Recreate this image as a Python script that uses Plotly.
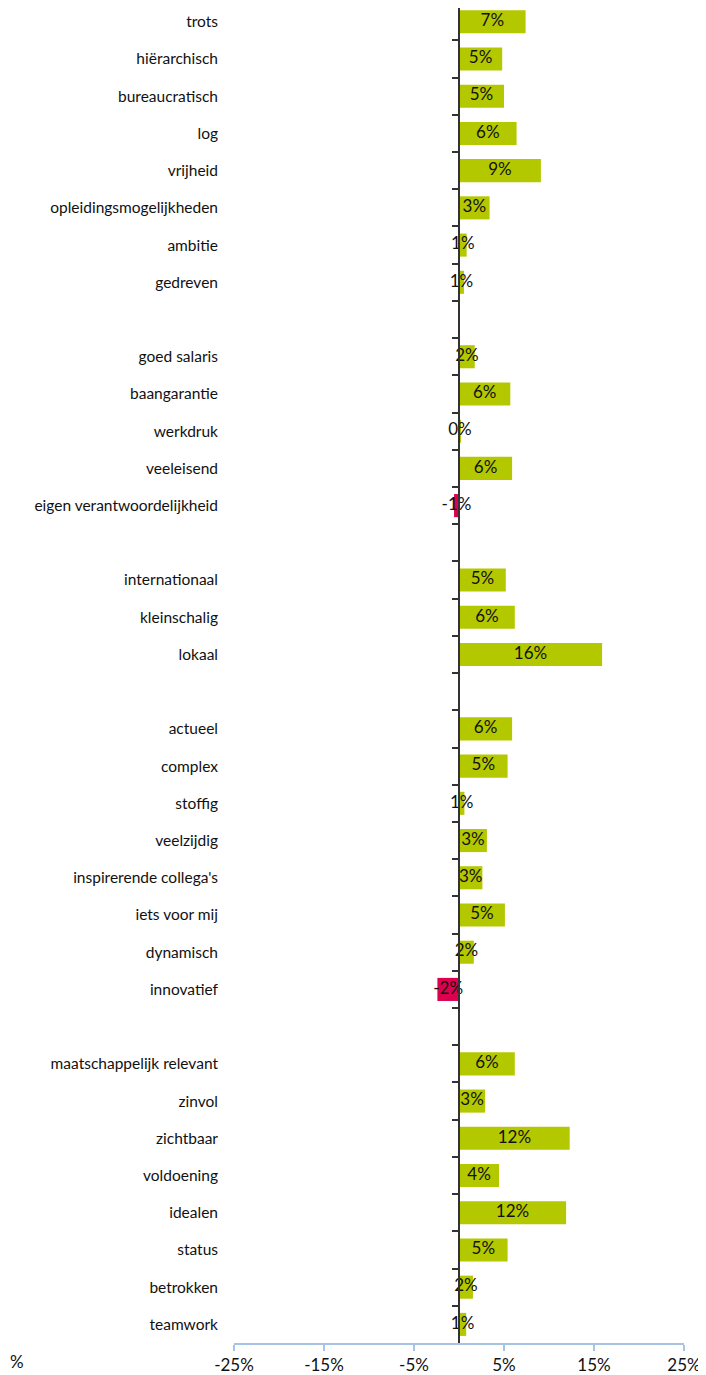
import plotly.graph_objects as go

categories = [
    "trots", "hiërarchisch", "bureaucratisch", "log", "vrijheid",
    "opleidingsmogelijkheden", "ambitie", "gedreven", "_gap1",
    "goed salaris", "baangarantie", "werkdruk", "veeleisend",
    "eigen verantwoordelijkheid", "_gap2",
    "internationaal", "kleinschalig", "lokaal", "_gap3",
    "actueel", "complex", "stoffig", "veelzijdig", "inspirerende collega's",
    "iets voor mij", "dynamisch", "innovatief", "_gap4",
    "maatschappelijk relevant", "zinvol", "zichtbaar", "voldoening",
    "idealen", "status", "betrokken", "teamwork",
]

values = [
    7.4, 4.8, 5.0, 6.4, 9.1,
    3.4, 0.85, 0.55, None,
    1.75, 5.7, 0.2, 5.9,
    -0.55, None,
    5.2, 6.2, 15.9, None,
    5.9, 5.4, 0.6, 3.1, 2.6,
    5.1, 1.65, -2.4, None,
    6.2, 2.9, 12.3, 4.45,
    11.9, 5.4, 1.55, 0.8,
]

x_tickvals = [-25, -15, -5, 5, 15, 25]
x_ticktext = ["-25%", "-15%", "-5%", "5%", "15%", "25%"]

GREEN = "#b4c800"
RED = "#dc004e"
FONT = "Lato"

y_ticktext = ["" if c.startswith("_gap") else c for c in categories]
bar_colors = [RED if (v is not None and v < 0) else GREEN for v in values]
text_x = [None if v is None else v / 2 for v in values]
text_lbl = ["" if v is None else f"{v:.0f}%" for v in values]
n = len(categories)
y_range = [n - 0.5, -0.37]

fig = go.Figure()
fig.add_trace(go.Bar(
    x=values, y=categories, orientation="h",
    marker=dict(color=bar_colors, line=dict(width=0)),
    hoverinfo="skip", showlegend=False,
))
fig.add_trace(go.Scatter(
    x=text_x, y=categories, yaxis="y2", mode="text",
    text=text_lbl, textposition="middle center",
    textfont=dict(family=FONT, size=17, color="#111111"),
    hoverinfo="skip", showlegend=False, cliponaxis=False,
))

fig.update_layout(
    width=698, height=1367,
    margin=dict(l=226, r=22, t=0, b=32),
    paper_bgcolor="white", plot_bgcolor="white",
    bargap=0.38,
    font=dict(family=FONT, color="#111111"),
    xaxis=dict(
        range=[-25, 25], tickvals=x_tickvals, ticktext=x_ticktext,
        showgrid=False, zeroline=False,
        showline=True, linecolor="#a7c3e3", linewidth=1.5,
        ticks="outside", ticklen=6, tickcolor="#a7c3e3", tickwidth=1.5,
        tickfont=dict(family=FONT, size=17, color="#111111"),
        fixedrange=True,
    ),
    yaxis=dict(
        type="category", categoryorder="array", categoryarray=categories,
        tickvals=categories, ticktext=y_ticktext,
        range=y_range, autorange=False,
        showgrid=False, zeroline=False, showline=False, ticks="",
        ticklabelstandoff=15,
        tickfont=dict(family=FONT, size=15.5, color="#111111"),
    ),
    yaxis2=dict(
        type="category", categoryorder="array", categoryarray=categories,
        overlaying="y", matches="y", anchor="free", position=0.5,
        side="left", range=y_range, autorange=False,
        showgrid=False, zeroline=False, showticklabels=False,
        showline=True, linecolor="#333333", linewidth=1.5,
        ticks="outside", tickson="boundaries", ticklen=6,
        tickcolor="#333333", tickwidth=1.5,
    ),
    annotations=[dict(
        text="%", xref="paper", yref="paper", x=-0.5022, y=-0.0142,
        xanchor="left", yanchor="middle", showarrow=False,
        font=dict(family=FONT, size=17, color="#111111"),
    )],
)

fig.write_html("out.html")
